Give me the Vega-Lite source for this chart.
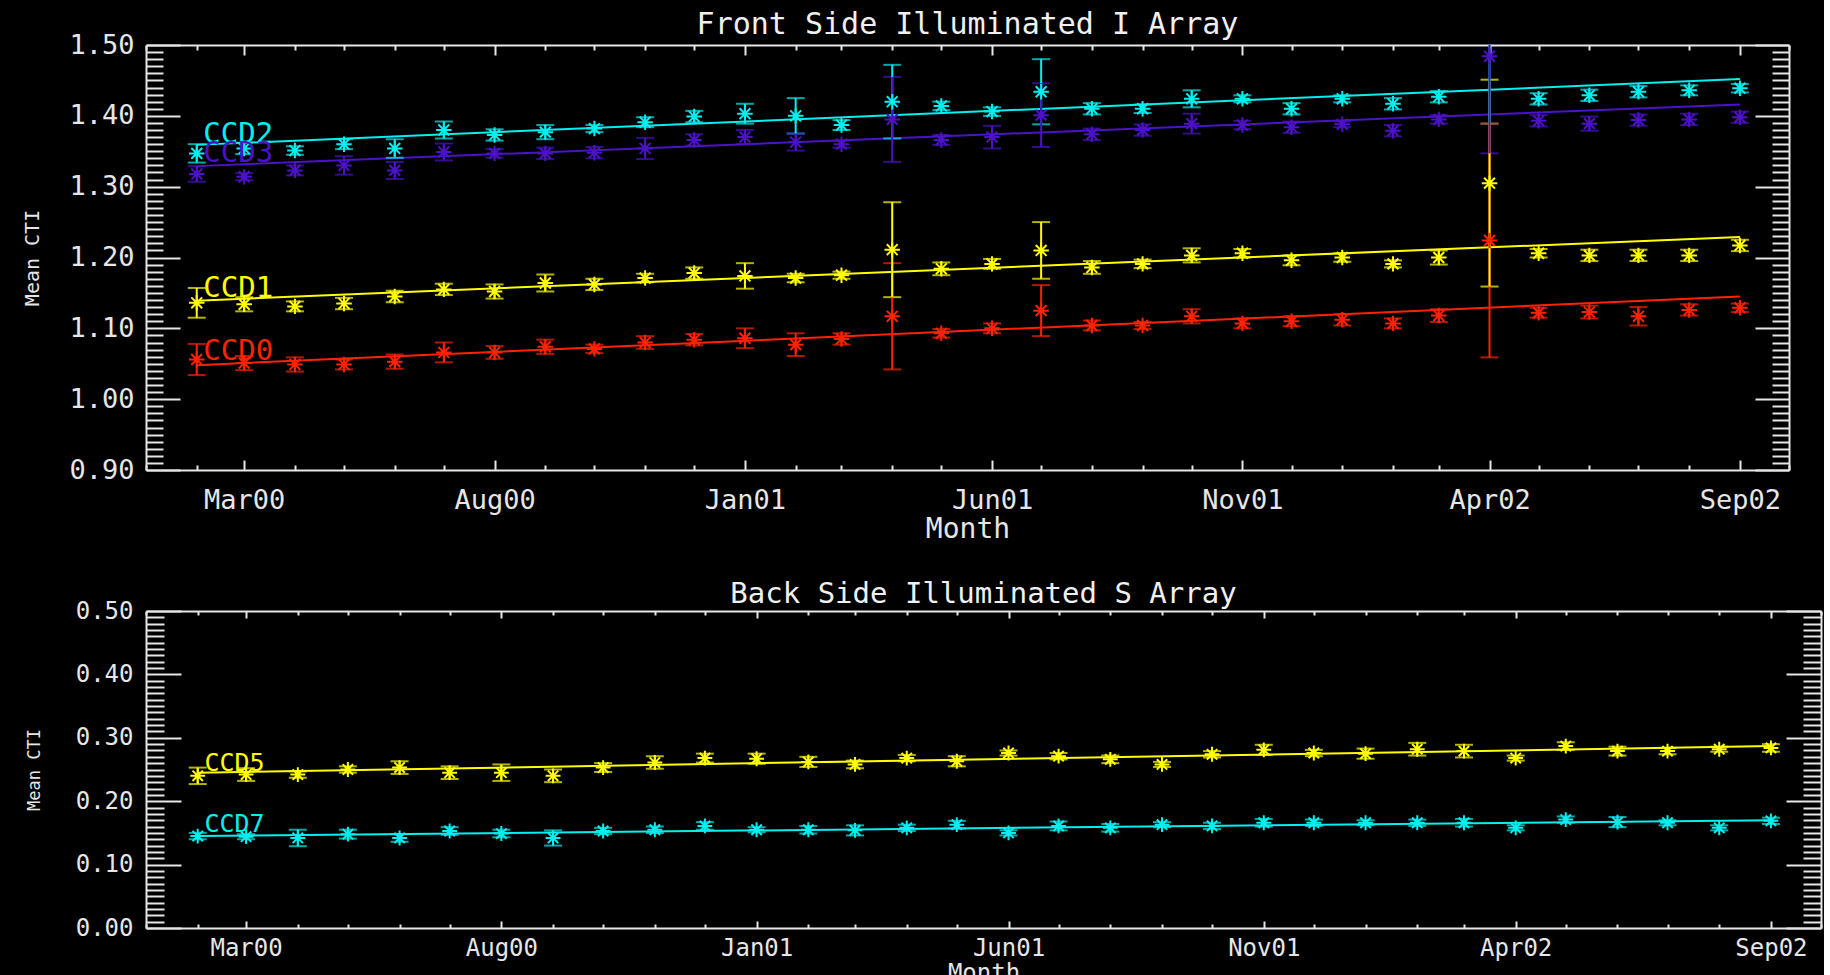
{
"$schema": "https://vega.github.io/schema/vega-lite/v6.json",
"background": "black",
"padding": {"left": 22, "top": 10, "right": 2, "bottom": 0},
"spacing": 37,
"config": {
 "view": {"stroke": null},
 "font": "DejaVu Sans Mono",
 "title": {"color": "#f0f0f0", "fontWeight": "normal", "font": "DejaVu Sans Mono"},
 "axis": {"domainColor": "#e6e6e6", "domainWidth": 2, "tickColor": "#e6e6e6", "tickWidth": 2, "labelColor": "#e6e6e6", "titleColor": "#e6e6e6", "labelFont": "DejaVu Sans Mono", "titleFont": "DejaVu Sans Mono", "titleFontWeight": "normal", "grid": false, "labelOverlap": false, "labelFlush": false}
},
"datasets": {
 "topPts": [
  {"ccd":"CCD0","month":"2000-02-01","cti":1.056,"err":0.022},
  {"ccd":"CCD0","month":"2000-03-01","cti":1.051,"err":0.010},
  {"ccd":"CCD0","month":"2000-04-01","cti":1.049,"err":0.010},
  {"ccd":"CCD0","month":"2000-05-01","cti":1.049,"err":0.007},
  {"ccd":"CCD0","month":"2000-06-01","cti":1.053,"err":0.010},
  {"ccd":"CCD0","month":"2000-07-01","cti":1.066,"err":0.014},
  {"ccd":"CCD0","month":"2000-08-01","cti":1.066,"err":0.009},
  {"ccd":"CCD0","month":"2000-09-01","cti":1.074,"err":0.010},
  {"ccd":"CCD0","month":"2000-10-01","cti":1.071,"err":0.006},
  {"ccd":"CCD0","month":"2000-11-01","cti":1.080,"err":0.009},
  {"ccd":"CCD0","month":"2000-12-01","cti":1.084,"err":0.008},
  {"ccd":"CCD0","month":"2001-01-01","cti":1.086,"err":0.014},
  {"ccd":"CCD0","month":"2001-02-01","cti":1.077,"err":0.016},
  {"ccd":"CCD0","month":"2001-03-01","cti":1.085,"err":0.008},
  {"ccd":"CCD0","month":"2001-04-01","cti":1.117,"err":0.075},
  {"ccd":"CCD0","month":"2001-05-01","cti":1.093,"err":0.006},
  {"ccd":"CCD0","month":"2001-06-01","cti":1.100,"err":0.007},
  {"ccd":"CCD0","month":"2001-07-01","cti":1.125,"err":0.036},
  {"ccd":"CCD0","month":"2001-08-01","cti":1.104,"err":0.007},
  {"ccd":"CCD0","month":"2001-09-01","cti":1.104,"err":0.005},
  {"ccd":"CCD0","month":"2001-10-01","cti":1.117,"err":0.010},
  {"ccd":"CCD0","month":"2001-11-01","cti":1.107,"err":0.007},
  {"ccd":"CCD0","month":"2001-12-01","cti":1.110,"err":0.007},
  {"ccd":"CCD0","month":"2002-01-01","cti":1.112,"err":0.008},
  {"ccd":"CCD0","month":"2002-02-01","cti":1.107,"err":0.007},
  {"ccd":"CCD0","month":"2002-03-01","cti":1.118,"err":0.009},
  {"ccd":"CCD0","month":"2002-04-01","cti":1.224,"err":0.165},
  {"ccd":"CCD0","month":"2002-05-01","cti":1.122,"err":0.007},
  {"ccd":"CCD0","month":"2002-06-01","cti":1.123,"err":0.009},
  {"ccd":"CCD0","month":"2002-07-01","cti":1.117,"err":0.013},
  {"ccd":"CCD0","month":"2002-08-01","cti":1.126,"err":0.008},
  {"ccd":"CCD0","month":"2002-09-01","cti":1.129,"err":0.006},
  {"ccd":"CCD1","month":"2000-02-01","cti":1.136,"err":0.021},
  {"ccd":"CCD1","month":"2000-03-01","cti":1.134,"err":0.010},
  {"ccd":"CCD1","month":"2000-04-01","cti":1.131,"err":0.007},
  {"ccd":"CCD1","month":"2000-05-01","cti":1.135,"err":0.008},
  {"ccd":"CCD1","month":"2000-06-01","cti":1.145,"err":0.008},
  {"ccd":"CCD1","month":"2000-07-01","cti":1.155,"err":0.008},
  {"ccd":"CCD1","month":"2000-08-01","cti":1.152,"err":0.010},
  {"ccd":"CCD1","month":"2000-09-01","cti":1.164,"err":0.012},
  {"ccd":"CCD1","month":"2000-10-01","cti":1.162,"err":0.008},
  {"ccd":"CCD1","month":"2000-11-01","cti":1.171,"err":0.006},
  {"ccd":"CCD1","month":"2000-12-01","cti":1.178,"err":0.008},
  {"ccd":"CCD1","month":"2001-01-01","cti":1.174,"err":0.018},
  {"ccd":"CCD1","month":"2001-02-01","cti":1.171,"err":0.006},
  {"ccd":"CCD1","month":"2001-03-01","cti":1.175,"err":0.005},
  {"ccd":"CCD1","month":"2001-04-01","cti":1.211,"err":0.067},
  {"ccd":"CCD1","month":"2001-05-01","cti":1.184,"err":0.009},
  {"ccd":"CCD1","month":"2001-06-01","cti":1.191,"err":0.007},
  {"ccd":"CCD1","month":"2001-07-01","cti":1.210,"err":0.040},
  {"ccd":"CCD1","month":"2001-08-01","cti":1.186,"err":0.009},
  {"ccd":"CCD1","month":"2001-09-01","cti":1.191,"err":0.006},
  {"ccd":"CCD1","month":"2001-10-01","cti":1.203,"err":0.010},
  {"ccd":"CCD1","month":"2001-11-01","cti":1.206,"err":0.006},
  {"ccd":"CCD1","month":"2001-12-01","cti":1.196,"err":0.007},
  {"ccd":"CCD1","month":"2002-01-01","cti":1.200,"err":0.006},
  {"ccd":"CCD1","month":"2002-02-01","cti":1.191,"err":0.005},
  {"ccd":"CCD1","month":"2002-03-01","cti":1.200,"err":0.010},
  {"ccd":"CCD1","month":"2002-04-01","cti":1.305,"err":0.146},
  {"ccd":"CCD1","month":"2002-05-01","cti":1.206,"err":0.006},
  {"ccd":"CCD1","month":"2002-06-01","cti":1.203,"err":0.008},
  {"ccd":"CCD1","month":"2002-07-01","cti":1.203,"err":0.008},
  {"ccd":"CCD1","month":"2002-08-01","cti":1.203,"err":0.008},
  {"ccd":"CCD1","month":"2002-09-01","cti":1.217,"err":0.008},
  {"ccd":"CCD2","month":"2000-02-01","cti":1.347,"err":0.013},
  {"ccd":"CCD2","month":"2000-03-01","cti":1.354,"err":0.008},
  {"ccd":"CCD2","month":"2000-04-01","cti":1.351,"err":0.006},
  {"ccd":"CCD2","month":"2000-05-01","cti":1.360,"err":0.007},
  {"ccd":"CCD2","month":"2000-06-01","cti":1.354,"err":0.013},
  {"ccd":"CCD2","month":"2000-07-01","cti":1.380,"err":0.012},
  {"ccd":"CCD2","month":"2000-08-01","cti":1.373,"err":0.008},
  {"ccd":"CCD2","month":"2000-09-01","cti":1.377,"err":0.010},
  {"ccd":"CCD2","month":"2000-10-01","cti":1.382,"err":0.005},
  {"ccd":"CCD2","month":"2000-11-01","cti":1.391,"err":0.007},
  {"ccd":"CCD2","month":"2000-12-01","cti":1.399,"err":0.008},
  {"ccd":"CCD2","month":"2001-01-01","cti":1.403,"err":0.014},
  {"ccd":"CCD2","month":"2001-02-01","cti":1.400,"err":0.025},
  {"ccd":"CCD2","month":"2001-03-01","cti":1.387,"err":0.007},
  {"ccd":"CCD2","month":"2001-04-01","cti":1.420,"err":0.052},
  {"ccd":"CCD2","month":"2001-05-01","cti":1.414,"err":0.006},
  {"ccd":"CCD2","month":"2001-06-01","cti":1.406,"err":0.006},
  {"ccd":"CCD2","month":"2001-07-01","cti":1.434,"err":0.046},
  {"ccd":"CCD2","month":"2001-08-01","cti":1.410,"err":0.008},
  {"ccd":"CCD2","month":"2001-09-01","cti":1.410,"err":0.006},
  {"ccd":"CCD2","month":"2001-10-01","cti":1.424,"err":0.012},
  {"ccd":"CCD2","month":"2001-11-01","cti":1.424,"err":0.005},
  {"ccd":"CCD2","month":"2001-12-01","cti":1.410,"err":0.008},
  {"ccd":"CCD2","month":"2002-01-01","cti":1.424,"err":0.005},
  {"ccd":"CCD2","month":"2002-02-01","cti":1.417,"err":0.008},
  {"ccd":"CCD2","month":"2002-03-01","cti":1.427,"err":0.008},
  {"ccd":"CCD2","month":"2002-04-01","cti":1.515,"err":0.126},
  {"ccd":"CCD2","month":"2002-05-01","cti":1.424,"err":0.008},
  {"ccd":"CCD2","month":"2002-06-01","cti":1.429,"err":0.008},
  {"ccd":"CCD2","month":"2002-07-01","cti":1.434,"err":0.008},
  {"ccd":"CCD2","month":"2002-08-01","cti":1.436,"err":0.007},
  {"ccd":"CCD2","month":"2002-09-01","cti":1.439,"err":0.006},
  {"ccd":"CCD3","month":"2000-02-01","cti":1.318,"err":0.011},
  {"ccd":"CCD3","month":"2000-03-01","cti":1.314,"err":0.005},
  {"ccd":"CCD3","month":"2000-04-01","cti":1.323,"err":0.007},
  {"ccd":"CCD3","month":"2000-05-01","cti":1.330,"err":0.013},
  {"ccd":"CCD3","month":"2000-06-01","cti":1.323,"err":0.012},
  {"ccd":"CCD3","month":"2000-07-01","cti":1.349,"err":0.012},
  {"ccd":"CCD3","month":"2000-08-01","cti":1.347,"err":0.006},
  {"ccd":"CCD3","month":"2000-09-01","cti":1.347,"err":0.008},
  {"ccd":"CCD3","month":"2000-10-01","cti":1.348,"err":0.008},
  {"ccd":"CCD3","month":"2000-11-01","cti":1.354,"err":0.015},
  {"ccd":"CCD3","month":"2000-12-01","cti":1.366,"err":0.008},
  {"ccd":"CCD3","month":"2001-01-01","cti":1.370,"err":0.010},
  {"ccd":"CCD3","month":"2001-02-01","cti":1.363,"err":0.012},
  {"ccd":"CCD3","month":"2001-03-01","cti":1.360,"err":0.005},
  {"ccd":"CCD3","month":"2001-04-01","cti":1.395,"err":0.060},
  {"ccd":"CCD3","month":"2001-05-01","cti":1.366,"err":0.007},
  {"ccd":"CCD3","month":"2001-06-01","cti":1.370,"err":0.016},
  {"ccd":"CCD3","month":"2001-07-01","cti":1.401,"err":0.045},
  {"ccd":"CCD3","month":"2001-08-01","cti":1.374,"err":0.008},
  {"ccd":"CCD3","month":"2001-09-01","cti":1.380,"err":0.008},
  {"ccd":"CCD3","month":"2001-10-01","cti":1.389,"err":0.014},
  {"ccd":"CCD3","month":"2001-11-01","cti":1.387,"err":0.006},
  {"ccd":"CCD3","month":"2001-12-01","cti":1.384,"err":0.008},
  {"ccd":"CCD3","month":"2002-01-01","cti":1.388,"err":0.004},
  {"ccd":"CCD3","month":"2002-02-01","cti":1.379,"err":0.008},
  {"ccd":"CCD3","month":"2002-03-01","cti":1.395,"err":0.006},
  {"ccd":"CCD3","month":"2002-04-01","cti":1.484,"err":0.137},
  {"ccd":"CCD3","month":"2002-05-01","cti":1.393,"err":0.008},
  {"ccd":"CCD3","month":"2002-06-01","cti":1.389,"err":0.010},
  {"ccd":"CCD3","month":"2002-07-01","cti":1.394,"err":0.008},
  {"ccd":"CCD3","month":"2002-08-01","cti":1.395,"err":0.008},
  {"ccd":"CCD3","month":"2002-09-01","cti":1.398,"err":0.008}
 ],
 "topFit": [
  {"ccd":"CCD0","month":"2000-02-01","cti":1.048},
  {"ccd":"CCD0","month":"2002-09-01","cti":1.145},
  {"ccd":"CCD1","month":"2000-02-01","cti":1.139},
  {"ccd":"CCD1","month":"2002-09-01","cti":1.229},
  {"ccd":"CCD2","month":"2000-02-01","cti":1.359},
  {"ccd":"CCD2","month":"2002-09-01","cti":1.452},
  {"ccd":"CCD3","month":"2000-02-01","cti":1.329},
  {"ccd":"CCD3","month":"2002-09-01","cti":1.416}
 ],
 "topLab": [
  {"ccd":"CCD0","month":"2000-02-05","cti":1.068},
  {"ccd":"CCD1","month":"2000-02-05","cti":1.157},
  {"ccd":"CCD2","month":"2000-02-05","cti":1.375},
  {"ccd":"CCD3","month":"2000-02-05","cti":1.347}
 ],
 "botPts": [
  {"ccd":"CCD5","month":"2000-02-01","cti":0.240,"err":0.013},
  {"ccd":"CCD5","month":"2000-03-01","cti":0.242,"err":0.010},
  {"ccd":"CCD5","month":"2000-04-01","cti":0.242,"err":0.005},
  {"ccd":"CCD5","month":"2000-05-01","cti":0.250,"err":0.005},
  {"ccd":"CCD5","month":"2000-06-01","cti":0.253,"err":0.010},
  {"ccd":"CCD5","month":"2000-07-01","cti":0.245,"err":0.010},
  {"ccd":"CCD5","month":"2000-08-01","cti":0.245,"err":0.013},
  {"ccd":"CCD5","month":"2000-09-01","cti":0.240,"err":0.010},
  {"ccd":"CCD5","month":"2000-10-01","cti":0.253,"err":0.007},
  {"ccd":"CCD5","month":"2000-11-01","cti":0.261,"err":0.010},
  {"ccd":"CCD5","month":"2000-12-01","cti":0.268,"err":0.007},
  {"ccd":"CCD5","month":"2001-01-01","cti":0.267,"err":0.008},
  {"ccd":"CCD5","month":"2001-02-01","cti":0.262,"err":0.008},
  {"ccd":"CCD5","month":"2001-03-01","cti":0.258,"err":0.006},
  {"ccd":"CCD5","month":"2001-04-01","cti":0.268,"err":0.005},
  {"ccd":"CCD5","month":"2001-05-01","cti":0.263,"err":0.008},
  {"ccd":"CCD5","month":"2001-06-01","cti":0.276,"err":0.004},
  {"ccd":"CCD5","month":"2001-07-01","cti":0.271,"err":0.005},
  {"ccd":"CCD5","month":"2001-08-01","cti":0.266,"err":0.006},
  {"ccd":"CCD5","month":"2001-09-01","cti":0.258,"err":0.004},
  {"ccd":"CCD5","month":"2001-10-01","cti":0.274,"err":0.005},
  {"ccd":"CCD5","month":"2001-11-01","cti":0.281,"err":0.008},
  {"ccd":"CCD5","month":"2001-12-01","cti":0.276,"err":0.005},
  {"ccd":"CCD5","month":"2002-01-01","cti":0.275,"err":0.008},
  {"ccd":"CCD5","month":"2002-02-01","cti":0.282,"err":0.010},
  {"ccd":"CCD5","month":"2002-03-01","cti":0.279,"err":0.010},
  {"ccd":"CCD5","month":"2002-04-01","cti":0.268,"err":0.004},
  {"ccd":"CCD5","month":"2002-05-01","cti":0.287,"err":0.006},
  {"ccd":"CCD5","month":"2002-06-01","cti":0.279,"err":0.007},
  {"ccd":"CCD5","month":"2002-07-01","cti":0.279,"err":0.005},
  {"ccd":"CCD5","month":"2002-08-01","cti":0.282,"err":0.004},
  {"ccd":"CCD5","month":"2002-09-01","cti":0.284,"err":0.006},
  {"ccd":"CCD7","month":"2000-02-01","cti":0.145,"err":0.005},
  {"ccd":"CCD7","month":"2000-03-01","cti":0.144,"err":0.004},
  {"ccd":"CCD7","month":"2000-04-01","cti":0.142,"err":0.013},
  {"ccd":"CCD7","month":"2000-05-01","cti":0.148,"err":0.007},
  {"ccd":"CCD7","month":"2000-06-01","cti":0.142,"err":0.006},
  {"ccd":"CCD7","month":"2000-07-01","cti":0.153,"err":0.006},
  {"ccd":"CCD7","month":"2000-08-01","cti":0.149,"err":0.006},
  {"ccd":"CCD7","month":"2000-09-01","cti":0.142,"err":0.012},
  {"ccd":"CCD7","month":"2000-10-01","cti":0.153,"err":0.005},
  {"ccd":"CCD7","month":"2000-11-01","cti":0.155,"err":0.005},
  {"ccd":"CCD7","month":"2000-12-01","cti":0.161,"err":0.006},
  {"ccd":"CCD7","month":"2001-01-01","cti":0.155,"err":0.004},
  {"ccd":"CCD7","month":"2001-02-01","cti":0.155,"err":0.006},
  {"ccd":"CCD7","month":"2001-03-01","cti":0.154,"err":0.008},
  {"ccd":"CCD7","month":"2001-04-01","cti":0.158,"err":0.005},
  {"ccd":"CCD7","month":"2001-05-01","cti":0.163,"err":0.006},
  {"ccd":"CCD7","month":"2001-06-01","cti":0.150,"err":0.004},
  {"ccd":"CCD7","month":"2001-07-01","cti":0.161,"err":0.007},
  {"ccd":"CCD7","month":"2001-08-01","cti":0.158,"err":0.006},
  {"ccd":"CCD7","month":"2001-09-01","cti":0.163,"err":0.004},
  {"ccd":"CCD7","month":"2001-10-01","cti":0.161,"err":0.005},
  {"ccd":"CCD7","month":"2001-11-01","cti":0.166,"err":0.006},
  {"ccd":"CCD7","month":"2001-12-01","cti":0.166,"err":0.005},
  {"ccd":"CCD7","month":"2002-01-01","cti":0.166,"err":0.004},
  {"ccd":"CCD7","month":"2002-02-01","cti":0.166,"err":0.005},
  {"ccd":"CCD7","month":"2002-03-01","cti":0.166,"err":0.006},
  {"ccd":"CCD7","month":"2002-04-01","cti":0.158,"err":0.004},
  {"ccd":"CCD7","month":"2002-05-01","cti":0.171,"err":0.005},
  {"ccd":"CCD7","month":"2002-06-01","cti":0.167,"err":0.008},
  {"ccd":"CCD7","month":"2002-07-01","cti":0.166,"err":0.004},
  {"ccd":"CCD7","month":"2002-08-01","cti":0.158,"err":0.004},
  {"ccd":"CCD7","month":"2002-09-01","cti":0.169,"err":0.005}
 ],
 "botFit": [
  {"ccd":"CCD5","month":"2000-02-01","cti":0.245},
  {"ccd":"CCD5","month":"2002-09-01","cti":0.287},
  {"ccd":"CCD7","month":"2000-02-01","cti":0.145},
  {"ccd":"CCD7","month":"2002-09-01","cti":0.170}
 ],
 "botLab": [
  {"ccd":"CCD5","month":"2000-02-05","cti":0.260},
  {"ccd":"CCD7","month":"2000-02-05","cti":0.164}
 ]
},
"vconcat": [
 {
  "width": 1643, "height": 425,
  "title": {"text": "Front Side Illuminated I Array", "fontSize": 30, "offset": -9},
  "layer": [
   {
    "data": {"name": "topFit"},
    "mark": {"type": "line", "strokeWidth": 2, "clip": true},
    "encoding": {
     "x": {"field": "month", "type": "temporal", "scale": {"type": "utc", "domain": [{"year": 2000, "month": 1, "date": 1, "utc": true}, {"year": 2002, "month": 10, "date": 1, "utc": true}]},
      "axis": {"orient": "bottom", "title": "Month", "format": "%b%y", "tickCount": {"interval": "month", "step": 1},
       "labelExpr": "((utcyear(datum.value)-2000)*12+utcmonth(datum.value)+3)%5==0 ? datum.label : ''",
       "tickSize": {"condition": {"test": "((utcyear(datum.value)-2000)*12+utcmonth(datum.value)+3)%5==0", "value": -10}, "value": -5},
       "labelPadding": 27, "labelFontSize": 27, "titleFontSize": 28, "titlePadding": -3}},
     "y": {"field": "cti", "type": "quantitative", "scale": {"domain": [0.9, 1.5], "zero": false, "nice": false},
      "axis": {"orient": "left", "title": "Mean CTI", "format": ".2f",
       "values": [0.9,0.91,0.92,0.93,0.94,0.95,0.96,0.97,0.98,0.99,1,1.01,1.02,1.03,1.04,1.05,1.06,1.07,1.08,1.09,1.1,1.11,1.12,1.13,1.14,1.15,1.16,1.17,1.18,1.19,1.2,1.21,1.22,1.23,1.24,1.25,1.26,1.27,1.28,1.29,1.3,1.31,1.32,1.33,1.34,1.35,1.36,1.37,1.38,1.39,1.4,1.41,1.42,1.43,1.44,1.45,1.46,1.47,1.48,1.49,1.5],
       "labelExpr": "abs(datum.value*10-round(datum.value*10))<0.01 ? datum.label : ''",
       "tickSize": {"condition": {"test": "abs(datum.value*10-round(datum.value*10))<0.01", "value": -34}, "value": -17},
       "labelPadding": 46, "labelFontSize": 27, "titleFontSize": 20, "titlePadding": 26}},
     "color": {"field": "ccd", "type": "nominal", "legend": null, "scale": {"domain": ["CCD0","CCD1","CCD2","CCD3","CCD5","CCD7"], "range": ["#ff2200","#ffff00","#00f0f0","#4b12c8","#ffff00","#00f0f0"]}}
    }
   },
   {
    "data": {"name": "topPts"},
    "mark": {"type": "errorbar", "ticks": {"size": 18, "thickness": 2}, "rule": {"strokeWidth": 2}, "clip": true},
    "encoding": {
     "x": {"field": "month", "type": "temporal", "axis": null},
     "y": {"field": "cti", "type": "quantitative", "axis": null},
     "yError": {"field": "err"},
     "color": {"field": "ccd", "type": "nominal", "legend": null}
    }
   },
   {
    "data": {"name": "topPts"},
    "mark": {"type": "point", "shape": "M-1,0L1,0M0,-1L0,1M-0.7,-0.7L0.7,0.7M-0.7,0.7L0.7,-0.7", "filled": false, "size": 240, "strokeWidth": 2, "opacity": 1, "clip": true},
    "encoding": {
     "x": {"field": "month", "type": "temporal", "axis": null},
     "y": {"field": "cti", "type": "quantitative", "axis": null},
     "color": {"field": "ccd", "type": "nominal", "legend": null}
    }
   },
   {
    "data": {"name": "topLab"},
    "mark": {"type": "text", "align": "left", "baseline": "middle", "fontSize": 29, "font": "DejaVu Sans Mono"},
    "encoding": {
     "x": {"field": "month", "type": "temporal", "axis": null},
     "y": {"field": "cti", "type": "quantitative", "axis": null},
     "text": {"field": "ccd"},
     "color": {"field": "ccd", "type": "nominal", "legend": null}
    }
   },
   {
    "data": {"name": "topFit"},
    "mark": {"type": "point", "opacity": 0},
    "encoding": {
     "x": {"field": "month", "type": "temporal",
      "axis": {"orient": "top", "title": null, "labels": false, "tickCount": {"interval": "month", "step": 1},
       "tickSize": {"condition": {"test": "((utcyear(datum.value)-2000)*12+utcmonth(datum.value)+3)%5==0", "value": -10}, "value": -5}}},
     "y": {"field": "cti", "type": "quantitative",
      "axis": {"orient": "right", "title": null, "labels": false,
       "values": [0.9,0.91,0.92,0.93,0.94,0.95,0.96,0.97,0.98,0.99,1,1.01,1.02,1.03,1.04,1.05,1.06,1.07,1.08,1.09,1.1,1.11,1.12,1.13,1.14,1.15,1.16,1.17,1.18,1.19,1.2,1.21,1.22,1.23,1.24,1.25,1.26,1.27,1.28,1.29,1.3,1.31,1.32,1.33,1.34,1.35,1.36,1.37,1.38,1.39,1.4,1.41,1.42,1.43,1.44,1.45,1.46,1.47,1.48,1.49,1.5],
       "tickSize": {"condition": {"test": "abs(datum.value*10-round(datum.value*10))<0.01", "value": -34}, "value": -17}}}
    }
   }
  ],
  "resolve": {"axis": {"x": "independent", "y": "independent"}}
 },
 {
  "width": 1675, "height": 317,
  "title": {"text": "Back Side Illuminated S Array", "fontSize": 29, "offset": -10},
  "layer": [
   {
    "data": {"name": "botFit"},
    "mark": {"type": "line", "strokeWidth": 2, "clip": true},
    "encoding": {
     "x": {"field": "month", "type": "temporal", "scale": {"type": "utc", "domain": [{"year": 2000, "month": 1, "date": 1, "utc": true}, {"year": 2002, "month": 10, "date": 1, "utc": true}]},
      "axis": {"orient": "bottom", "title": "Month", "format": "%b%y", "tickCount": {"interval": "month", "step": 1},
       "labelExpr": "((utcyear(datum.value)-2000)*12+utcmonth(datum.value)+3)%5==0 ? datum.label : ''",
       "tickSize": {"condition": {"test": "((utcyear(datum.value)-2000)*12+utcmonth(datum.value)+3)%5==0", "value": -7}, "value": -4},
       "labelPadding": 15, "labelFontSize": 24, "titleFontSize": 24, "titlePadding": -2}},
     "y": {"field": "cti", "type": "quantitative", "scale": {"domain": [0, 0.5], "zero": false, "nice": false},
      "axis": {"orient": "left", "title": "Mean CTI", "format": ".2f",
       "values": [0,0.01,0.02,0.03,0.04,0.05,0.06,0.07,0.08,0.09,0.1,0.11,0.12,0.13,0.14,0.15,0.16,0.17,0.18,0.19,0.2,0.21,0.22,0.23,0.24,0.25,0.26,0.27,0.28,0.29,0.3,0.31,0.32,0.33,0.34,0.35,0.36,0.37,0.38,0.39,0.4,0.41,0.42,0.43,0.44,0.45,0.46,0.47,0.48,0.49,0.5],
       "labelExpr": "abs(datum.value*10-round(datum.value*10))<0.01 ? datum.label : ''",
       "tickSize": {"condition": {"test": "abs(datum.value*10-round(datum.value*10))<0.01", "value": -35}, "value": -18},
       "labelPadding": 48, "labelFontSize": 24, "titleFontSize": 17, "titlePadding": 32}},
     "color": {"field": "ccd", "type": "nominal", "legend": null, "scale": {"domain": ["CCD0","CCD1","CCD2","CCD3","CCD5","CCD7"], "range": ["#ff2200","#ffff00","#00f0f0","#4b12c8","#ffff00","#00f0f0"]}}
    }
   },
   {
    "data": {"name": "botPts"},
    "mark": {"type": "errorbar", "ticks": {"size": 18, "thickness": 2}, "rule": {"strokeWidth": 2}, "clip": true},
    "encoding": {
     "x": {"field": "month", "type": "temporal", "axis": null},
     "y": {"field": "cti", "type": "quantitative", "axis": null},
     "yError": {"field": "err"},
     "color": {"field": "ccd", "type": "nominal", "legend": null}
    }
   },
   {
    "data": {"name": "botPts"},
    "mark": {"type": "point", "shape": "M-1,0L1,0M0,-1L0,1M-0.7,-0.7L0.7,0.7M-0.7,0.7L0.7,-0.7", "filled": false, "size": 220, "strokeWidth": 2, "opacity": 1, "clip": true},
    "encoding": {
     "x": {"field": "month", "type": "temporal", "axis": null},
     "y": {"field": "cti", "type": "quantitative", "axis": null},
     "color": {"field": "ccd", "type": "nominal", "legend": null}
    }
   },
   {
    "data": {"name": "botLab"},
    "mark": {"type": "text", "align": "left", "baseline": "middle", "fontSize": 25, "font": "DejaVu Sans Mono"},
    "encoding": {
     "x": {"field": "month", "type": "temporal", "axis": null},
     "y": {"field": "cti", "type": "quantitative", "axis": null},
     "text": {"field": "ccd"},
     "color": {"field": "ccd", "type": "nominal", "legend": null}
    }
   },
   {
    "data": {"name": "botFit"},
    "mark": {"type": "point", "opacity": 0},
    "encoding": {
     "x": {"field": "month", "type": "temporal",
      "axis": {"orient": "top", "title": null, "labels": false, "tickCount": {"interval": "month", "step": 1},
       "tickSize": {"condition": {"test": "((utcyear(datum.value)-2000)*12+utcmonth(datum.value)+3)%5==0", "value": -7}, "value": -4}}},
     "y": {"field": "cti", "type": "quantitative",
      "axis": {"orient": "right", "title": null, "labels": false,
       "values": [0,0.01,0.02,0.03,0.04,0.05,0.06,0.07,0.08,0.09,0.1,0.11,0.12,0.13,0.14,0.15,0.16,0.17,0.18,0.19,0.2,0.21,0.22,0.23,0.24,0.25,0.26,0.27,0.28,0.29,0.3,0.31,0.32,0.33,0.34,0.35,0.36,0.37,0.38,0.39,0.4,0.41,0.42,0.43,0.44,0.45,0.46,0.47,0.48,0.49,0.5],
       "tickSize": {"condition": {"test": "abs(datum.value*10-round(datum.value*10))<0.01", "value": -35}, "value": -18}}}
    }
   }
  ],
  "resolve": {"axis": {"x": "independent", "y": "independent"}}
 }
]
}
